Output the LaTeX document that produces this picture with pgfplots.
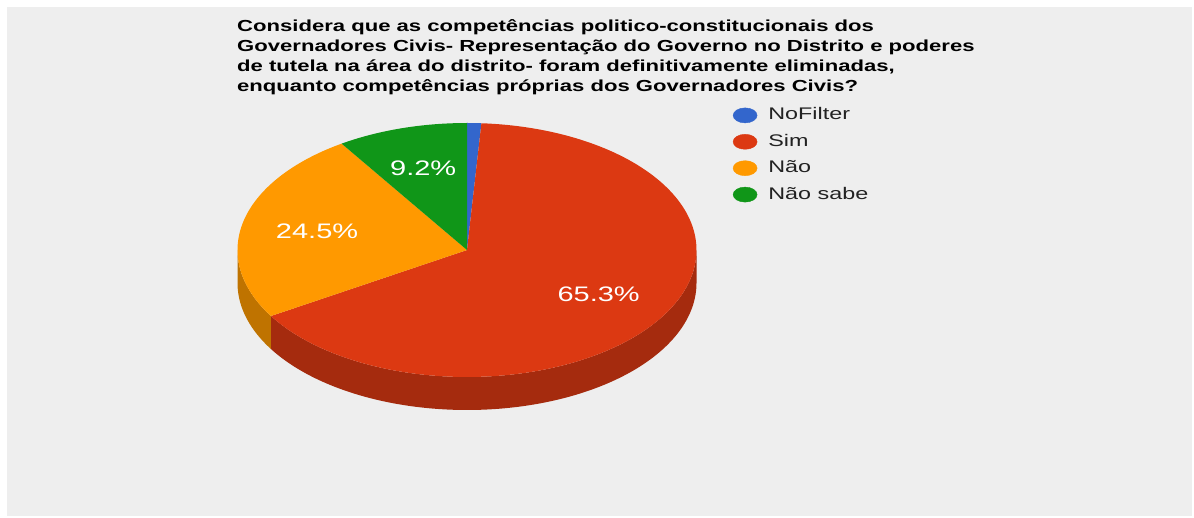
\documentclass[border=0pt]{standalone}
\usepackage{pgfplots}
\pgfplotsset{compat=1.18}
\usepackage{pgfplotstable}
\usepackage{fontspec}
\setmainfont{Liberation Sans}
\definecolor{cBlue}{HTML}{3366CC}
\definecolor{cRed}{HTML}{DC3912}
\definecolor{cOrange}{HTML}{FF9900}
\definecolor{cGreen}{HTML}{109618}
\definecolor{cRedS}{HTML}{A52B0E}
\definecolor{cOrangeS}{HTML}{BF7300}
\definecolor{bg}{HTML}{EEEEEE}
\definecolor{legtext}{HTML}{222222}

% shares in percent: NoFilter, Sim, Nao, Nao sabe
\pgfplotstableread{
value
1.0
65.3
24.5
9.2
}\piedata
\pgfplotstablegetelem{0}{value}\of\piedata \let\vA\pgfplotsretval
\pgfplotstablegetelem{1}{value}\of\piedata \let\vB\pgfplotsretval
\pgfplotstablegetelem{2}{value}\of\piedata \let\vC\pgfplotsretval
\pgfplotstablegetelem{3}{value}\of\piedata \let\vD\pgfplotsretval
\pgfmathsetmacro\tA{0}
\pgfmathsetmacro\tB{\tA+3.6*\vA}
\pgfmathsetmacro\tC{\tB+3.6*\vB}
\pgfmathsetmacro\tD{\tC+3.6*\vC}
\pgfmathsetmacro\tE{\tD+3.6*\vD}
% geometry of the pie (picture units = px)
\def\cx{467}
\def\cy{250}
\def\rx{229.5}
\def\ry{127}
\def\dep{33}
\def\lf{0.67}
% visible side walls (front half: 90..270 deg)
\pgfmathsetmacro\rS{max(\tB,90)}
\pgfmathsetmacro\rE{min(\tC,270)}
\pgfmathsetmacro\oS{max(\tC,90)}
\pgfmathsetmacro\oE{min(\tD,270)}
% label positions
\pgfmathsetmacro\lxB{\cx+\lf*\rx*sin((\tB+\tC)/2)}
\pgfmathsetmacro\lyB{\cy-\lf*\ry*cos((\tB+\tC)/2)}
\pgfmathsetmacro\lxC{\cx+\lf*\rx*sin((\tC+\tD)/2)}
\pgfmathsetmacro\lyC{\cy-\lf*\ry*cos((\tC+\tD)/2)}
\pgfmathsetmacro\lxD{\cx+\lf*\rx*sin((\tD+\tE)/2)}
\pgfmathsetmacro\lyD{\cy-\lf*\ry*cos((\tD+\tE)/2)}

\newcommand\pct[1]{\scalebox{1.38}[1]{\pgfmathprintnumber[fixed,precision=1,fixed zerofill,assume math mode=true]{#1}\%}}
\newcommand\leg[1]{\scalebox{1.39}[1]{#1}}
\newcommand\ttl[1]{\scalebox{1.38}[1]{#1}}

\begin{document}
\begin{tikzpicture}
\fill[white] (0pt,0pt) rectangle (1194pt,518pt);
\fill[bg] (7pt,2pt) rectangle (1192pt,511pt);
\begin{axis}[
  at={(0pt,0pt)}, anchor=south west,
  width=1194pt, height=518pt, scale only axis,
  xmin=0, xmax=1194, ymin=0, ymax=518, y dir=reverse,
  axis lines=none, clip=false,
  legend cell align=left,
  legend style={at={(axis cs:732.7,106.7)}, anchor=north west, draw=none, fill=none,
    inner sep=0pt, row sep=9.4pt, text=legtext,
    font=\fontsize{16.8}{20}\selectfont,
    nodes={inner sep=0pt, text height=13pt, text depth=4pt},
    /tikz/every odd column/.append style={column sep=11pt}},
  legend image code/.code={\fill[#1] (12pt,0pt) ellipse[x radius=12pt, y radius=7.5pt];},
]
% side walls: top arc s->e, down, bottom arc e->s (parameter x in [0,3])
\addplot[forget plot, fill=cRedS, draw=none, domain=0:3, samples=361]
  ({\cx+\rx*sin(\rS+(\rE-\rS)*(min(x,1)-max(x-2,0)))},
   {\cy-\ry*cos(\rS+(\rE-\rS)*(min(x,1)-max(x-2,0)))+\dep*min(max(x-1,0),1)}) -- cycle;
\addplot[forget plot, fill=cOrangeS, draw=none, domain=0:3, samples=181]
  ({\cx+\rx*sin(\oS+(\oE-\oS)*(min(x,1)-max(x-2,0)))},
   {\cy-\ry*cos(\oS+(\oE-\oS)*(min(x,1)-max(x-2,0)))+\dep*min(max(x-1,0),1)}) -- cycle;

% top faces
\addplot[forget plot, fill=cBlue, draw=none, domain=\tA:\tB, samples=10] ({\cx+\rx*sin(x)},{\cy-\ry*cos(x)}) -- (axis cs:\cx,\cy) -- cycle;
\addplot[forget plot, fill=cRed, draw=none, domain=\tB:\tC, samples=150] ({\cx+\rx*sin(x)},{\cy-\ry*cos(x)}) -- (axis cs:\cx,\cy) -- cycle;
\addplot[forget plot, fill=cOrange, draw=none, domain=\tC:\tD, samples=60] ({\cx+\rx*sin(x)},{\cy-\ry*cos(x)}) -- (axis cs:\cx,\cy) -- cycle;
\addplot[forget plot, fill=cGreen, draw=none, domain=\tD:\tE, samples=30] ({\cx+\rx*sin(x)},{\cy-\ry*cos(x)}) -- (axis cs:\cx,\cy) -- cycle;

% slice labels
\node[text=white, font=\fontsize{21}{24}\selectfont] at (axis cs:\lxB,\lyB) {\pct{\vB}};
\node[text=white, font=\fontsize{21}{24}\selectfont] at (axis cs:\lxC,\lyC) {\pct{\vC}};
\node[text=white, font=\fontsize{21}{24}\selectfont] at (axis cs:\lxD,\lyD) {\pct{\vD}};

% title
\begin{scope}[every node/.style={anchor=base west, inner sep=0pt, font=\bfseries\fontsize{16}{20}\selectfont}]
\node at (axis cs:237,31.5) {\ttl{Considera que as competências politico-constitucionais dos}};
\node at (axis cs:237,51.5) {\ttl{Governadores Civis- Representação do Governo no Distrito e poderes}};
\node at (axis cs:237,71.5) {\ttl{de tutela na área do distrito- foram definitivamente eliminadas,}};
\node at (axis cs:237,91.5) {\ttl{enquanto competências próprias dos Governadores Civis?}};
\end{scope}

% legend
\addlegendimage{cBlue}\addlegendentry{\leg{NoFilter}}
\addlegendimage{cRed}\addlegendentry{\leg{Sim}}
\addlegendimage{cOrange}\addlegendentry{\leg{Não}}
\addlegendimage{cGreen}\addlegendentry{\leg{Não sabe}}
\end{axis}
\end{tikzpicture}
\end{document}
